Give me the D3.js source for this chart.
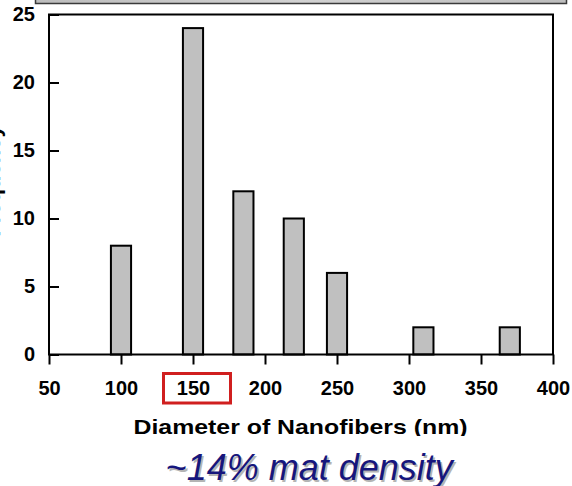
<!DOCTYPE html>
<html>
<head>
<meta charset="utf-8">
<script src="https://cdn.jsdelivr.net/npm/d3@7"></script>
<style>
  html, body { margin: 0; padding: 0; background: #fff; }
  svg { display: block; }
  text { font-family: "Liberation Sans", Arial, sans-serif; }
</style>
</head>
<body>
<svg id="chart" width="572" height="486"></svg>
<script>
// Histogram of nanofiber diameters (bin centres in nm) and their counts
const binCentres = [100, 150, 185, 220, 250, 310, 370];
const counts = [8, 24, 12, 10, 6, 2, 2];
const binWidth = 14;
const xTickValues = [50, 100, 150, 200, 250, 300, 350, 400];
const yTickValues = [0, 5, 10, 15, 20, 25];
const highlightedTick = 150;
const xTitle = "Diameter of Nanofibers (nm)";
const yTitle = "Frequency";
const caption = "~14% mat density";

const svg = d3.select("#chart");

const x = d3.scaleLinear().domain([50, 400]).range([49, 553]);
const y = d3.scaleLinear().domain([0, 25]).range([354.5, 14.5]);

// strip of the panel above, cut by the top edge
const grad = svg.append("defs").append("linearGradient")
  .attr("id", "strip").attr("x1", 0).attr("x2", 1).attr("y1", 0).attr("y2", 0);
grad.append("stop").attr("offset", "0%").attr("stop-color", "#bdbdbd");
grad.append("stop").attr("offset", "50%").attr("stop-color", "#d2d2d2");
grad.append("stop").attr("offset", "100%").attr("stop-color", "#bdbdbd");

svg.append("rect")
  .attr("x", 35.5).attr("y", -10).attr("width", 531).attr("height", 13.5)
  .attr("fill", "url(#strip)").attr("stroke", "#3a3a3a").attr("stroke-width", 1.5);

// bars
svg.append("g").selectAll("rect")
  .data(binCentres)
  .join("rect")
  .attr("x", d => x(d - binWidth / 2))
  .attr("width", d => x(d + binWidth / 2) - x(d - binWidth / 2))
  .attr("y", (d, i) => y(counts[i]))
  .attr("height", (d, i) => y(0) - y(counts[i]))
  .attr("fill", "#c0c0c0")
  .attr("stroke", "#000")
  .attr("stroke-width", 2);

// y axis, ticks pointing into the plot
const yAxis = svg.append("g")
  .attr("transform", `translate(${x(50)},0)`)
  .call(d3.axisLeft(y).tickValues(yTickValues).tickSizeInner(-10).tickSizeOuter(0).tickPadding(14));

// x axis, ticks pointing down
const xAxis = svg.append("g")
  .attr("transform", `translate(0,${y(0)})`)
  .call(d3.axisBottom(x).tickValues(xTickValues).tickSizeInner(10).tickSizeOuter(0).tickPadding(16));

[yAxis, xAxis].forEach(g => {
  g.select(".domain").remove();
  g.selectAll(".tick line").attr("stroke", "#000").attr("stroke-width", 2);
  g.selectAll(".tick text")
    .attr("fill", "#000")
    .style("font-size", "20px")
    .style("font-weight", "bold");
});

// plot frame
svg.append("rect")
  .attr("x", x(50)).attr("y", y(25))
  .attr("width", x(400) - x(50)).attr("height", y(0) - y(25))
  .attr("fill", "none").attr("stroke", "#000").attr("stroke-width", 2);

// red box around the highlighted tick label
svg.append("rect")
  .attr("x", x(highlightedTick) - 29.5).attr("y", 373.5)
  .attr("width", 67).attr("height", 29.5)
  .attr("fill", "none").attr("stroke", "#d01f1f").attr("stroke-width", 3);

// y axis title, mostly beyond the left edge
svg.append("text")
  .attr("transform", "translate(0,181) rotate(-90)")
  .attr("text-anchor", "middle")
  .style("font-size", "22px").style("font-weight", "bold")
  .text(yTitle);

// x axis title
svg.append("text")
  .attr("x", 300.5).attr("y", 434)
  .attr("text-anchor", "middle")
  .attr("textLength", 334).attr("lengthAdjust", "spacingAndGlyphs")
  .style("font-size", "21px").style("font-weight", "bold")
  .text(xTitle);

// caption on its own white band
svg.append("rect")
  .attr("x", 0).attr("y", 436).attr("width", 572).attr("height", 50)
  .attr("fill", "#fff");

svg.append("text")
  .attr("x", 311).attr("y", 481.5)
  .attr("text-anchor", "middle")
  .style("font-size", "36px").style("font-style", "italic")
  .attr("fill", "#b4b4b4")
  .text(caption);

svg.append("text")
  .attr("x", 309.2).attr("y", 479.5)
  .attr("text-anchor", "middle")
  .style("font-size", "36px").style("font-style", "italic")
  .attr("fill", "#16167c")
  .text(caption);
</script>
</body>
</html>
